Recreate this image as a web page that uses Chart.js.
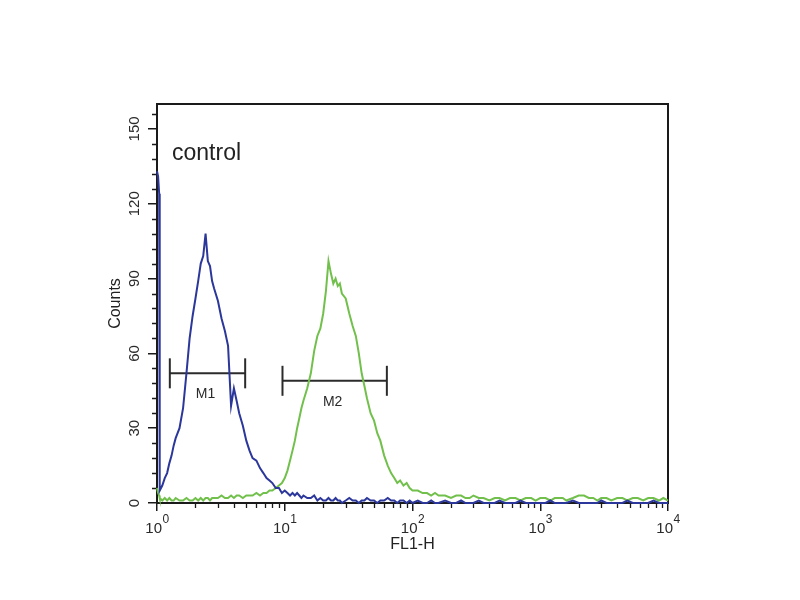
<!DOCTYPE html>
<html>
<head>
<meta charset="utf-8">
<script src="https://cdn.jsdelivr.net/npm/chart.js@4"></script>
<style>
  html, body { margin: 0; padding: 0; background: #fff; }
</style>
</head>
<body>
<canvas id="histogram" width="800" height="600"></canvas>
<script>
// FL1-H channel values (shared by both histograms)
const fl1Bins = [
  1, 1.02, 1.04, 1.05, 1.1, 1.15, 1.2, 1.25, 1.3, 1.35, 1.4,
  1.5, 1.6, 1.7, 1.8, 1.9, 2.0, 2.1, 2.2, 2.3, 2.4,
  2.5, 2.6, 2.7, 2.8, 3.0, 3.2, 3.4, 3.6, 3.8, 4.0,
  4.2, 4.4, 4.7, 5.0, 5.3, 5.6, 6.0, 6.4, 6.8, 7.2,
  7.6, 8.0, 8.5, 9.0, 9.5,
  10, 10.5, 11, 11.5, 12, 12.5, 13, 13.5, 14, 15,
  16, 17, 18, 19, 20, 21, 22, 23, 24, 25,
  26, 27, 28, 30, 32, 34, 36, 38, 40, 42,
  44, 47, 50, 53, 56, 60, 64, 68, 72, 76,
  80, 85, 90, 95,
  100, 110, 120, 130, 140, 150, 160, 180, 200, 220,
  240, 260, 280, 300, 330, 360, 400, 440, 480, 530,
  580, 640, 700, 770, 850, 920,
  1000, 1100, 1200, 1300, 1400, 1500, 1600, 1800, 2000, 2200,
  2400, 2600, 2800, 3000, 3300, 3600, 4000, 4400, 4800, 5300,
  5800, 6400, 7000, 7700, 8500, 9200, 10000
];

// control (isotype) histogram, blue
const blueCounts = [
  133, 131, 124, 5, 7, 10, 12, 16, 19, 23, 26,
  30, 38, 52, 66, 75, 82, 89, 96, 99, 108,
  97, 95, 89, 86, 81, 74, 69, 63, 39, 46,
  41, 36, 31, 25, 21, 18, 17, 14, 12, 10,
  9, 8, 6, 6, 4,
  5, 4, 3, 4, 3, 4, 3, 2, 3, 2,
  2, 3, 1, 2, 1, 1, 2, 1, 1, 2,
  1, 1, 0, 1, 2, 1, 1, 0, 1, 1,
  2, 1, 1, 0, 1, 1, 2, 1, 1, 0,
  1, 1, 0, 1,
  0, 1, 0, 0, 1, 0, 0, 1, 0, 0,
  1, 0, 0, 0, 1, 0, 0, 0, 1, 0,
  0, 0, 1, 0, 0, 0,
  0, 0, 1, 0, 0, 0, 0, 1, 0, 0,
  0, 0, 0, 1, 0, 0, 0, 0, 1, 0,
  0, 0, 0, 1, 0, 0, 0
];

// stained sample histogram, green
const greenCounts = [
  6, 4, 3, 2, 1, 2, 1, 2, 1, 1, 2,
  1, 1, 2, 1, 1, 2, 1, 2, 1, 2,
  2, 1, 2, 2, 2, 3, 2, 2, 3, 2,
  3, 3, 2, 3, 3, 3, 4, 3, 4, 4,
  5, 5, 6, 7, 8,
  10, 13, 17, 21, 25, 30, 34, 38, 41, 46,
  52, 61, 67, 70, 76, 85, 97, 92, 88, 90,
  87, 88, 84, 82, 76, 71, 67, 60, 52, 47,
  42, 36, 33, 28, 25, 19, 15, 12, 10, 8,
  9, 7, 8, 6,
  5, 5, 4, 4, 3, 4, 3, 3, 2, 3,
  3, 2, 2, 3, 2, 2, 1, 2, 2, 1,
  2, 2, 1, 2, 2, 1,
  2, 2, 1, 2, 2, 2, 1, 2, 3, 3,
  2, 2, 1, 2, 2, 1, 2, 2, 1, 2,
  2, 1, 2, 2, 1, 2, 1
];

const yTickValues = [0, 30, 60, 90, 120, 150];
const xTickPowers = [0, 1, 2, 3, 4];

// gate markers
const markerNames = ['M1', 'M2'];
const markerStart = [1.26, 9.6];
const markerEnd = [4.9, 63];
const markerLevel = [52, 49];

const sampleLabel = 'control';

const FONT = "'Liberation Sans', Arial, sans-serif";
const INK = '#1a1a1a';

Chart.defaults.font.family = FONT;
Chart.defaults.color = '#222';

const markerDatasets = markerNames.map((name, i) => ({
  label: name,
  data: [
    { x: markerStart[i], y: markerLevel[i] },
    { x: markerEnd[i], y: markerLevel[i] }
  ],
  borderColor: '#2b2b2b',
  borderWidth: 2,
  pointStyle: 'line',
  pointRotation: 90,
  pointRadius: 15,
  pointHoverRadius: 15,
  pointBorderWidth: 2,
  pointBorderColor: '#2b2b2b'
}));

// box, minor ticks, x labels with exponents, marker names, sample text
const flowDecor = {
  id: 'flowDecor',
  beforeDatasetsDraw(chart) {
    const { ctx, chartArea: a, scales: { x, y } } = chart;
    ctx.save();
    ctx.strokeStyle = INK;
    ctx.lineWidth = 2;
    ctx.strokeRect(a.left, a.top, a.right - a.left, a.bottom - a.top);

    ctx.lineWidth = 1.3;
    ctx.beginPath();
    for (let v = 6; v < 160; v += 6) {
      if (v % 30 === 0) continue;
      const py = Math.round(y.getPixelForValue(v)) + 0.5;
      ctx.moveTo(a.left - 5, py);
      ctx.lineTo(a.left, py);
    }
    for (let k = 0; k < 4; k++) {
      for (let m = 2; m <= 9; m++) {
        const px = Math.round(x.getPixelForValue(m * 10 ** k)) + 0.5;
        ctx.moveTo(px, a.bottom);
        ctx.lineTo(px, a.bottom + 5);
      }
    }
    ctx.stroke();
    ctx.restore();
  },
  afterDatasetsDraw(chart) {
    const { ctx, chartArea: a, scales: { x, y } } = chart;
    ctx.save();
    ctx.fillStyle = '#2a2a2a';

    // x tick labels: 10 with raised exponent
    ctx.textBaseline = 'alphabetic';
    ctx.textAlign = 'left';
    xTickPowers.forEach(p => {
      const px = x.getPixelForValue(10 ** p);
      ctx.font = `15px ${FONT}`;
      const wBase = ctx.measureText('10').width;
      ctx.font = `12px ${FONT}`;
      const wExp = ctx.measureText(String(p)).width;
      const left = px - (wBase + wExp) / 2;
      ctx.font = `15px ${FONT}`;
      ctx.fillText('10', left, a.bottom + 30);
      ctx.font = `12px ${FONT}`;
      ctx.fillText(String(p), left + wBase + 0.5, a.bottom + 20);
    });

    // marker names below the gate bars
    ctx.font = `14px ${FONT}`;
    ctx.textAlign = 'center';
    ctx.textBaseline = 'middle';
    markerNames.forEach((name, i) => {
      const mid = Math.sqrt(markerStart[i] * markerEnd[i]);
      ctx.fillText(name, x.getPixelForValue(mid) - 2, y.getPixelForValue(markerLevel[i]) + 21);
    });

    // sample label
    ctx.font = `23px ${FONT}`;
    ctx.textAlign = 'left';
    ctx.textBaseline = 'alphabetic';
    ctx.fillStyle = '#222';
    ctx.fillText(sampleLabel, a.left + 15, a.top + 56);
    ctx.restore();
  }
};

new Chart(document.getElementById('histogram'), {
  type: 'line',
  data: {
    datasets: [
      {
        label: 'control',
        data: fl1Bins.map((v, i) => ({ x: v, y: blueCounts[i] })),
        borderColor: '#2b379a',
        borderWidth: 2,
        pointRadius: 0,
        tension: 0,
        clip: 4
      },
      {
        label: 'sample',
        data: fl1Bins.map((v, i) => ({ x: v, y: greenCounts[i] })),
        borderColor: '#72c04c',
        borderWidth: 2,
        pointRadius: 0,
        tension: 0,
        clip: 4
      },
      ...markerDatasets
    ]
  },
  options: {
    responsive: false,
    animation: false,
    events: [],
    layout: { padding: { left: 0, right: 132, top: 104, bottom: 0 } },
    plugins: {
      legend: { display: false },
      tooltip: { enabled: false }
    },
    scales: {
      x: {
        type: 'logarithmic',
        min: 1,
        max: 10000,
        afterBuildTicks: s => { s.ticks = xTickPowers.map(p => ({ value: 10 ** p })); },
        afterFit: s => { s.height = 97; },
        ticks: { display: false },
        grid: { drawOnChartArea: false, drawTicks: true, tickLength: 8, color: INK, lineWidth: 1.5 },
        border: { display: true, color: INK, width: 2 },
        title: {
          display: true,
          text: 'FL1-H',
          color: '#222',
          font: { size: 16 },
          padding: { top: 0, bottom: 46 }
        }
      },
      y: {
        type: 'linear',
        min: 0,
        max: 160,
        afterBuildTicks: s => { s.ticks = yTickValues.map(v => ({ value: v })); },
        afterFit: s => { s.width = 157; },
        ticks: {
          minRotation: 90,
          maxRotation: 90,
          crossAlign: 'center',
          padding: 1,
          color: '#2a2a2a',
          font: { size: 15 }
        },
        grid: { drawOnChartArea: false, drawTicks: true, tickLength: 9, color: INK, lineWidth: 1.5 },
        border: { display: true, color: INK, width: 2 },
        title: {
          display: true,
          text: 'Counts',
          color: '#222',
          font: { size: 16 },
          padding: { top: 106, bottom: 0 }
        }
      }
    }
  },
  plugins: [flowDecor]
});
</script>
</body>
</html>
